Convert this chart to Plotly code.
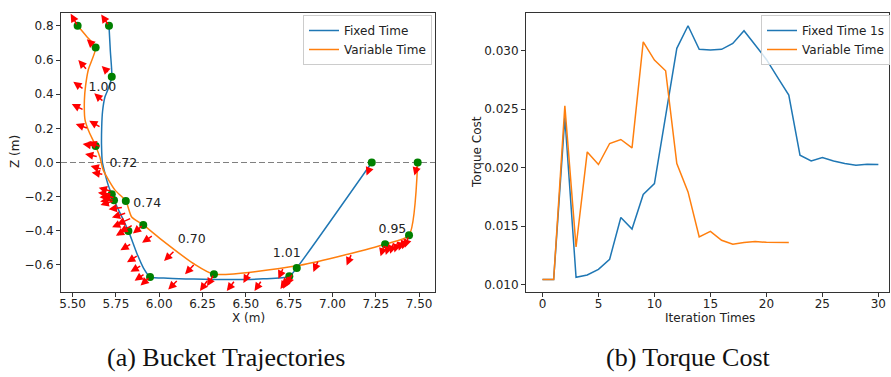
import plotly.graph_objects as go

# ---------------- data: (a) bucket trajectories ----------------
blue_path_x = [5.710, 5.718, 5.726, 5.705, 5.687, 5.673, 5.668, 5.667, 5.672, 5.687, 5.708, 5.726, 5.739,
               5.780, 5.822, 5.870, 5.910, 5.947, 6.05, 6.20, 6.39, 6.60, 6.751, 6.794, 7.227]
blue_path_y = [0.801, 0.650, 0.502, 0.430, 0.385, 0.300, 0.209, 0.100, 0.000, -0.065, -0.140, -0.186, -0.221,
               -0.310, -0.401, -0.530, -0.620, -0.671, -0.678, -0.683, -0.686, -0.682, -0.667, -0.618, 0.000]
orange_path_x = [5.529, 5.580, 5.633, 5.591, 5.575, 5.568, 5.572, 5.591, 5.633, 5.658, 5.677, 5.745, 5.807,
                 5.841, 5.908, 6.005, 6.197, 6.316, 6.813, 7.304, 7.442, 7.492]
orange_path_y = [0.801, 0.740, 0.674, 0.545, 0.450, 0.365, 0.248, 0.189, 0.097, 0.030, -0.045, -0.162, -0.225,
                 -0.319, -0.366, -0.446, -0.592, -0.655, -0.602, -0.479, -0.426, 0.000]

blue_wp_x = [5.710, 5.726, 5.726, 5.739, 5.822, 5.947, 6.751, 6.794, 7.227]
blue_wp_y = [0.801, 0.502, -0.186, -0.221, -0.401, -0.671, -0.667, -0.618, 0.000]
orange_wp_x = [5.529, 5.633, 5.633, 5.807, 5.908, 6.316, 7.304, 7.442, 7.492]
orange_wp_y = [0.801, 0.674, 0.097, -0.225, -0.366, -0.655, -0.479, -0.426, 0.000]

seg_labels = ["1.00", "0.72", "0.74", "0.70", "1.01", "0.95"]
label_x = [5.672, 5.793, 5.931, 6.188, 6.736, 7.346]
label_y = [0.44, -0.01, -0.241, -0.456, -0.534, -0.397]

# force arrows: tail (x, y) and vector (u, v)
arrow_x = [5.710, 5.529, 5.614, 5.585, 5.712, 5.566, 5.681, 5.566, 5.664, 5.591, 5.664, 5.633, 5.648, 5.672, 5.680,
           5.726, 5.726, 5.735, 5.739, 5.739, 5.745,
           5.793, 5.812, 5.841, 5.803, 5.850, 5.815, 5.908, 5.966, 5.841, 5.879, 5.899, 5.918, 5.947,
           6.091, 6.207, 6.110, 6.316, 6.283, 6.438, 6.524, 6.592, 6.717,
           6.745, 6.755, 6.760, 6.770,
           6.919, 7.111, 7.217, 7.490,
           7.300, 7.330, 7.355, 7.380, 7.405, 7.425, 7.440]
arrow_y = [0.801, 0.801, 0.692, 0.541, 0.522, 0.428, 0.355, 0.307, 0.205, 0.199, 0.092, 0.097, 0.033, -0.040, -0.070,
           -0.170, -0.186, -0.200, -0.215, -0.225, -0.205,
           -0.262, -0.295, -0.325, -0.345, -0.365, -0.390, -0.366, -0.426, -0.475, -0.544, -0.602, -0.651, -0.671,
           -0.514, -0.592, -0.686, -0.655, -0.686, -0.690, -0.636, -0.690, -0.616,
           -0.672, -0.665, -0.660, -0.650,
           -0.573, -0.534, -0.026, -0.016,
           -0.480, -0.472, -0.465, -0.457, -0.447, -0.438, -0.430]
arrow_u = [-0.045, -0.040, -0.032, -0.052, -0.044, -0.062, -0.056, -0.071, -0.068, -0.073, -0.073, -0.075, -0.076, -0.068, -0.070,
           -0.075, -0.080, -0.080, -0.080, -0.078, -0.076,
           -0.085, -0.085, -0.085, -0.075, -0.080, -0.065, -0.060, -0.065, -0.065, -0.065, -0.065, -0.060, -0.055,
           -0.063, -0.058, -0.058, -0.040, -0.048, -0.048, -0.038, -0.042, -0.029,
           -0.045, -0.040, -0.050, -0.035,
           -0.029, -0.029, -0.020, -0.017,
           -0.022, -0.022, -0.022, -0.022, -0.022, -0.022, -0.022]
arrow_v = [0.066, 0.070, 0.030, 0.059, 0.043, 0.045, 0.050, 0.035, 0.039, 0.026, 0.029, 0.012, 0.016, 0.020, 0.012,
           0.022, 0.008, -0.004, -0.014, -0.024, 0.004,
           -0.012, -0.028, -0.038, -0.035, -0.045, -0.040, -0.050, -0.045, -0.040, -0.040, -0.038, -0.042, -0.050,
           -0.063, -0.063, -0.059, -0.070, -0.067, -0.063, -0.070, -0.063, -0.065,
           -0.070, -0.075, -0.065, -0.072,
           -0.069, -0.069, -0.050, -0.060,
           -0.070, -0.070, -0.070, -0.070, -0.070, -0.070, -0.070]

# ---------------- data: (b) torque cost ----------------
iter_fixed = list(range(31))
torque_fixed = [0.01043, 0.01043, 0.0243, 0.01063, 0.01082, 0.01131, 0.01217, 0.01574, 0.01476, 0.01771,
                0.01864, 0.0244, 0.03021, 0.03214, 0.03012, 0.03006, 0.03012, 0.03063, 0.03171, 0.0305,
                0.02926, 0.02772, 0.02621, 0.02107, 0.02058, 0.02087, 0.02058, 0.02036, 0.02021, 0.0203, 0.02027]
iter_var = list(range(23))
torque_var = [0.01043, 0.01043, 0.02529, 0.01322, 0.02135, 0.02027, 0.02207, 0.02241, 0.0217, 0.03077,
              0.0292, 0.02829, 0.02036, 0.01793, 0.01408, 0.01456, 0.01379, 0.01345, 0.0136, 0.01368,
              0.01362, 0.01362, 0.0136]

BLUE = "#1f77b4"
ORANGE = "#ff7f0e"
FONT = "DejaVu Sans"
W, H = 891, 377

fig = go.Figure()

# left plot traces
fig.add_trace(go.Scatter(x=blue_path_x, y=blue_path_y, mode="lines", name="Fixed Time",
                         line=dict(color=BLUE, width=1.5, shape="spline", smoothing=0.6),
                         xaxis="x", yaxis="y", legend="legend"))
fig.add_trace(go.Scatter(x=orange_path_x, y=orange_path_y, mode="lines", name="Variable Time",
                         line=dict(color=ORANGE, width=1.5, shape="spline", smoothing=0.6),
                         xaxis="x", yaxis="y", legend="legend"))
fig.add_trace(go.Scatter(x=blue_wp_x + orange_wp_x, y=blue_wp_y + orange_wp_y, mode="markers",
                         marker=dict(color="green", size=8), showlegend=False, xaxis="x", yaxis="y"))
fig.add_trace(go.Scatter(x=label_x, y=label_y, mode="text", text=seg_labels,
                         textfont=dict(family=FONT, size=12.5, color="#222"), showlegend=False,
                         xaxis="x", yaxis="y"))

# right plot traces
fig.add_trace(go.Scatter(x=iter_fixed, y=torque_fixed, mode="lines", name="Fixed Time 1s",
                         line=dict(color=BLUE, width=1.5), xaxis="x2", yaxis="y2", legend="legend2"))
fig.add_trace(go.Scatter(x=iter_var, y=torque_var, mode="lines", name="Variable Time",
                         line=dict(color=ORANGE, width=1.5), xaxis="x2", yaxis="y2", legend="legend2"))

annotations = []
for x0, y0, u, v in zip(arrow_x, arrow_y, arrow_u, arrow_v):
    annotations.append(dict(x=x0 + u, y=y0 + v, ax=x0, ay=y0, xref="x", yref="y", axref="x", ayref="y",
                            text="", showarrow=True, arrowhead=2, arrowsize=1.1, arrowwidth=1.5,
                            arrowcolor="red"))


def px_x(p):
    return p / W


def px_y(p):
    return 1 - p / H


title_font = dict(family=FONT, size=12, color="#222")
cap_font = dict(family="Liberation Serif", size=26, color="#111")


def label(text, x, y, font, angle=0):
    return dict(text=text, x=px_x(x), y=px_y(y), xref="paper", yref="paper", showarrow=False,
                xanchor="center", yanchor="middle", textangle=angle, font=font)


annotations += [
    label("X (m)", 248, 318, title_font),
    label("Z (m)", 15, 152, title_font, -90),
    label("Iteration Times", 710, 318, title_font),
    label("Torque Cost", 477, 152, title_font, -90),
    label("(a) Bucket Trajectories", 226, 357, cap_font),
    label("(b) Torque Cost", 688, 357, cap_font),
]

axis_common = dict(showgrid=False, zeroline=False, showline=True, mirror=True, linecolor="#333",
                   linewidth=1, ticks="outside", ticklen=4, tickcolor="#333",
                   tickfont=dict(family=FONT, size=12, color="#222"), automargin=False)

legend_common = dict(yanchor="top", bgcolor="rgba(255,255,255,0.8)", bordercolor="#cccccc", borderwidth=1,
                     font=dict(family=FONT, size=12, color="#222"), itemwidth=30, tracegroupgap=0)

ydom = [px_y(292), px_y(13)]
fig.update_layout(
    width=W, height=H, margin=dict(l=0, r=0, t=0, b=0),
    paper_bgcolor="white", plot_bgcolor="white",
    xaxis=dict(domain=[px_x(61), px_x(435)], range=[5.433, 7.592], dtick=0.25, tick0=5.5,
               tickformat=".2f", anchor="y", ticklabelstandoff=-3, **axis_common),
    yaxis=dict(domain=ydom, range=[-0.759, 0.876], dtick=0.2, tick0=0, tickformat=".1f",
               anchor="x", **axis_common),
    xaxis2=dict(domain=[px_x(526), px_x(889)], range=[-1.47, 30.95], dtick=5, tick0=0,
                anchor="y2", ticklabelstandoff=-3, **axis_common),
    yaxis2=dict(domain=ydom, range=[0.00937, 0.03323], dtick=0.005, tick0=0.01, tickformat=".3f",
                anchor="x2", **axis_common),
    legend=dict(x=px_x(303), y=px_y(15), xanchor="left", **legend_common),
    legend2=dict(x=px_x(761), y=px_y(15), xanchor="left", **legend_common),
    annotations=annotations,
    shapes=[dict(type="line", xref="x domain", x0=0, x1=1, yref="y", y0=0, y1=0,
                 line=dict(color="gray", width=1.2, dash="6px,3px"), layer="below")],
)

# remove the browser's default 8px body margin so the figure fills the window exactly
fig.write_html("out.html", config={"displayModeBar": False},
               post_script="document.body.style.margin='0';document.body.style.overflow='hidden';")
